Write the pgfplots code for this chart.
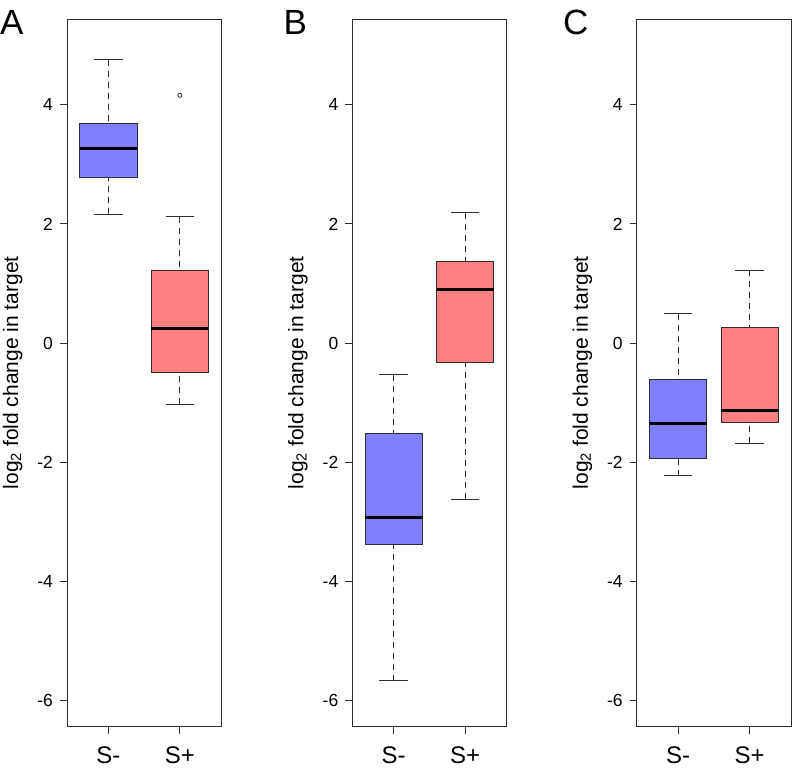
\documentclass[border=0pt]{standalone}
\usepackage{pgfplots}
\pgfplotsset{compat=1.18}
\usepgfplotslibrary{statistics}
\usepackage{fontspec}
\setmainfont{Liberation Sans}
\definecolor{boxblue}{RGB}{128,128,255}
\definecolor{boxred}{RGB}{255,128,128}
\definecolor{axgray}{RGB}{45,45,45}

\pgfplotsset{
  boxplot/draw/lower whisker/.code={%
    \draw[axgray, line width=0.9pt, dash pattern=on 6pt off 5pt]
      (boxplot box cs:\pgfplotsboxplotvalue{lower whisker},0.5) -- (boxplot box cs:\pgfplotsboxplotvalue{lower quartile},0.5);
    \draw[axgray, line width=0.9pt]
      (boxplot whisker cs:\pgfplotsboxplotvalue{lower whisker},0) -- (boxplot whisker cs:\pgfplotsboxplotvalue{lower whisker},1);
  },
  boxplot/draw/upper whisker/.code={%
    \draw[axgray, line width=0.9pt, dash pattern=on 6pt off 5pt]
      (boxplot box cs:\pgfplotsboxplotvalue{upper whisker},0.5) -- (boxplot box cs:\pgfplotsboxplotvalue{upper quartile},0.5);
    \draw[axgray, line width=0.9pt]
      (boxplot whisker cs:\pgfplotsboxplotvalue{upper whisker},0) -- (boxplot whisker cs:\pgfplotsboxplotvalue{upper whisker},1);
  },
  panel/.style={
    scale only axis, width=154.3pt, height=707.7pt,
    xmin=0.42, xmax=2.58, ymin=-6.44, ymax=5.44,
    boxplot/draw direction=y,
    xtick={1,2}, xticklabels={S-,S+},
    ytick={-6,-4,-2,0,2,4}, yticklabels={-6,-4,-2,0,2,4},
    tick align=outside, xtick pos=bottom, ytick pos=left,
    major tick length=7pt,
    axis line style={axgray, line width=0.9pt},
    every tick/.style={axgray, line width=0.9pt},
    yticklabel style={font=\fontsize{17.5}{20}\selectfont, xshift=-3.5pt},
    xticklabel style={font=\fontsize{24}{28}\selectfont, yshift=-10pt},
    ylabel={log\textsubscript{2} fold change in target},
    ylabel style={font=\fontsize{21}{24}\selectfont, at={(axis description cs:-0.352,0.5)}, anchor=center},
    clip=false,
  },
  bx/.style={fill=#1, draw=axgray, line width=0.9pt},
}

\begin{document}
\begin{tikzpicture}
\path[use as bounding box] (0,0) rectangle (793pt,773pt);

% Panel A
\begin{axis}[panel, at={(67pt,46.3pt)}, anchor=south west]
\addplot[bx=boxblue, boxplot prepared={draw position=1, median=3.26, upper quartile=3.69, lower quartile=2.78, upper whisker=4.76, lower whisker=2.16, box extend=0.8, whisker extend=0.4, every median/.style={line width=3pt,black}}] coordinates {};
\addplot[bx=boxred, boxplot prepared={draw position=2, median=0.25, upper quartile=1.22, lower quartile=-0.50, upper whisker=2.12, lower whisker=-1.03, box extend=0.8, whisker extend=0.4, every median/.style={line width=3pt,black}}] coordinates {};
\addplot[only marks, mark=o, mark size=2pt, axgray, line width=0.8pt] coordinates {(2,4.16)};
\end{axis}

% Panel B
\begin{axis}[panel, at={(352.3pt,46.3pt)}, anchor=south west]
\addplot[bx=boxblue, boxplot prepared={draw position=1, median=-2.93, upper quartile=-1.52, lower quartile=-3.38, upper whisker=-0.53, lower whisker=-5.67, box extend=0.8, whisker extend=0.4, every median/.style={line width=3pt,black}}] coordinates {};
\addplot[bx=boxred, boxplot prepared={draw position=2, median=0.905, upper quartile=1.37, lower quartile=-0.32, upper whisker=2.19, lower whisker=-2.62, box extend=0.8, whisker extend=0.4, every median/.style={line width=3pt,black}}] coordinates {};
\end{axis}

% Panel C
\begin{axis}[panel, at={(636.7pt,46.3pt)}, anchor=south west]
\addplot[bx=boxblue, boxplot prepared={draw position=1, median=-1.35, upper quartile=-0.61, lower quartile=-1.93, upper whisker=0.49, lower whisker=-2.23, box extend=0.8, whisker extend=0.4, every median/.style={line width=3pt,black}}] coordinates {};
\addplot[bx=boxred, boxplot prepared={draw position=2, median=-1.13, upper quartile=0.27, lower quartile=-1.33, upper whisker=1.22, lower whisker=-1.68, box extend=0.8, whisker extend=0.4, every median/.style={line width=3pt,black}}] coordinates {};
\end{axis}

\node[anchor=base west, inner sep=0, font=\fontsize{35}{40}\selectfont] at (0pt,738pt) {A};
\node[anchor=base west, inner sep=0, font=\fontsize{35}{40}\selectfont] at (283.5pt,738pt) {B};
\node[anchor=base west, inner sep=0, font=\fontsize{35}{40}\selectfont] at (563pt,738pt) {C};
\end{tikzpicture}
\end{document}
